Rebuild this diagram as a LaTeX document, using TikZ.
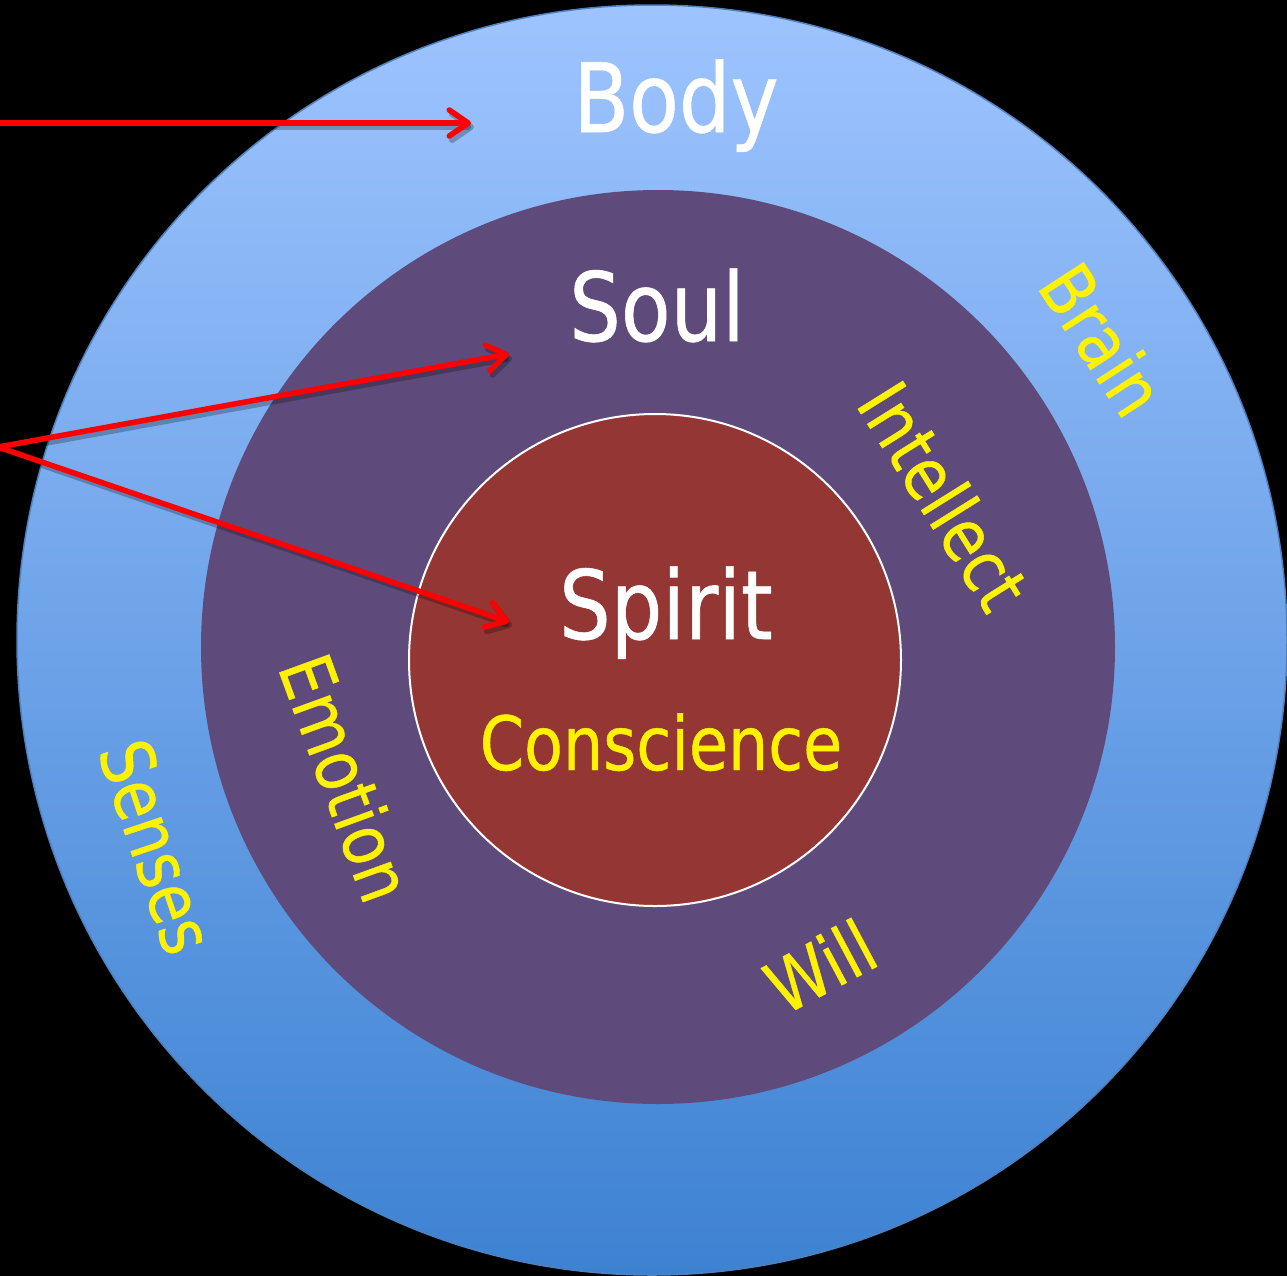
\documentclass[tikz,border=0pt]{standalone}
\usepackage{fontspec}
\setmainfont{DejaVu Sans}[FakeStretch=0.85,FakeBold=0.6]
\usetikzlibrary{arrows.meta}
\definecolor{bodytop}{RGB}{158,196,255}
\definecolor{bodybot}{RGB}{61,130,210}
\definecolor{soulc}{RGB}{95,75,123}
\definecolor{spiritc}{RGB}{148,54,52}
\definecolor{rimc}{RGB}{79,129,189}
\definecolor{arrowred}{RGB}{255,0,0}
\begin{document}
\begin{tikzpicture}[x=1bp,y=-1bp,
  whitelbl/.style={text=white,font=\fontsize{96}{110}\selectfont,anchor=base,inner sep=0pt},
  yellowlbl/.style={text=yellow,font=\fontsize{73}{85}\selectfont,anchor=base,inner sep=0pt},
  redarrow/.style={draw=arrowred,line width=5.5bp,line cap=round,line join=round,
    -{Straight Barb[length=19bp,width=26bp,line cap=round,line join=round]}},
  shadowarrow/.style={draw=black,opacity=0.25,line width=6bp,line cap=round,line join=round,
    -{Straight Barb[length=19bp,width=26bp,line cap=round,line join=round]}}]
% background
\fill[black] (0,0) rectangle (1287,1276);
\useasboundingbox (0,0) rectangle (1287,1276);
% circles
\coordinate (cbody) at (652,640);
\coordinate (csoul) at (658,647);
\coordinate (cspirit) at (655,660);
\shade[top color=bodytop,bottom color=bodybot,draw=rimc,line width=1.5bp] (cbody) circle[radius=635];
\fill[soulc] (csoul) circle[radius=457];
\fill[spiritc,draw=white,line width=2bp] (cspirit) circle[radius=246];
% labels
\node[whitelbl] (body) at (676,132) {Body};
\node[whitelbl] (soul) at (657,341) {Soul};
\node[whitelbl] (spirit) at (666,639) {Spirit};
\node[yellowlbl,font=\fontsize{75}{85}\selectfont] (conscience) at (661,770) {Conscience};
\node[yellowlbl,rotate=-57] (brain) at (1080,354) {Brain};
\node[yellowlbl,rotate=-58] (intellect) at (921,510) {Intellect};
\node[yellowlbl,rotate=-70] (emotion) at (321,787) {Emotion};
\node[yellowlbl,rotate=-71.5] (senses) at (132,855) {Senses};
\node[yellowlbl,rotate=28] (will) at (833,990) {Will};
% arrows
\coordinate (a1s) at (-5,123);
\coordinate (a1e) at (471,123);
\coordinate (apex) at (-2,447);
\coordinate (a2e) at (509,354);
\coordinate (a3e) at (509,622);
\draw[shadowarrow] ([shift={(3,4)}]a1s) -- ([shift={(3,4)}]a1e);
\draw[shadowarrow] ([shift={(3,4)}]apex) -- ([shift={(3,4)}]a2e);
\draw[shadowarrow] ([shift={(3,4)}]apex) -- ([shift={(3,4)}]a3e);
\draw[redarrow] (a1s) -- (a1e);
\draw[redarrow] (apex) -- (a2e);
\draw[redarrow] (apex) -- (a3e);
\end{tikzpicture}
\end{document}
